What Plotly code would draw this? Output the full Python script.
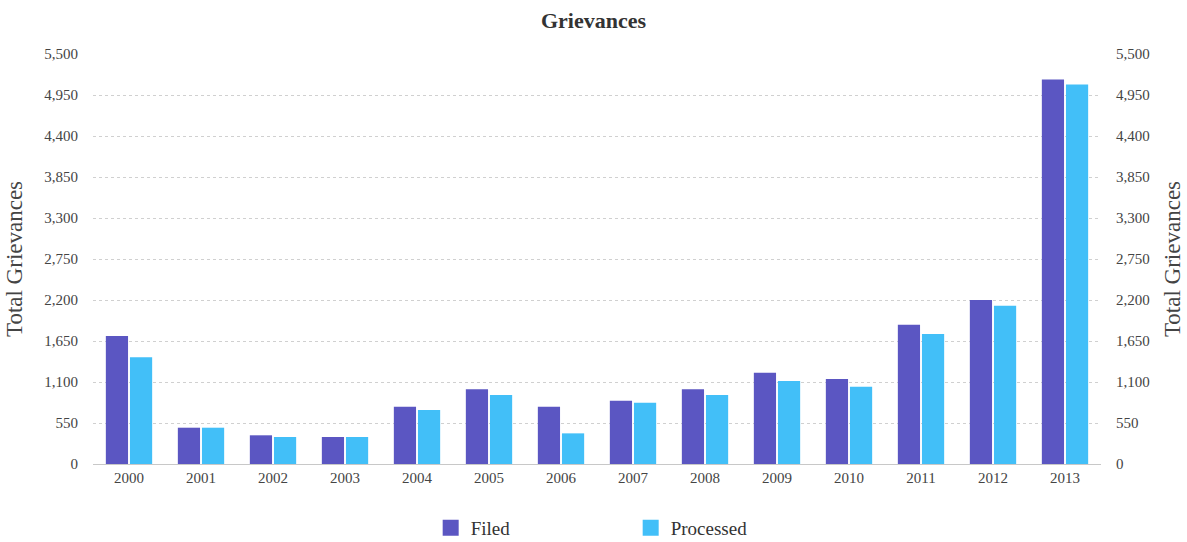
import plotly.graph_objects as go

years = ["2000", "2001", "2002", "2003", "2004", "2005", "2006",
         "2007", "2008", "2009", "2010", "2011", "2012", "2013"]
filed = [1717, 487, 385, 362, 768, 1002, 768, 849, 1002, 1225, 1140, 1868, 2199, 5159]
processed = [1431, 487, 362, 362, 724, 925, 411, 822, 925, 1113, 1037, 1743, 2123, 5092]
tick_vals = [0, 550, 1100, 1650, 2200, 2750, 3300, 3850, 4400, 4950, 5500]

FONT = "Liberation Serif, Times New Roman, serif"
C_FILED = "#5b56c2"
C_PROC = "#42bff8"

fig = go.Figure()
fig.add_trace(go.Bar(x=years, y=filed, name="Filed", marker_color=C_FILED,
                     marker_line_width=0, showlegend=False))
fig.add_trace(go.Bar(x=years, y=processed, name="Processed", marker_color=C_PROC,
                     marker_line_width=0, showlegend=False))
# legend-only entries with larger square symbols
fig.add_trace(go.Scatter(x=[None], y=[None], mode="markers", name="Filed",
                         marker=dict(symbol="square", size=16, color=C_FILED)))
fig.add_trace(go.Scatter(x=[None], y=[None], mode="markers", name="Processed",
                         marker=dict(symbol="square", size=16, color=C_PROC)))
# invisible trace to activate the right axis
fig.add_trace(go.Scatter(x=years, y=filed, yaxis="y2", mode="markers",
                         marker_opacity=0, showlegend=False, hoverinfo="skip"))

axis_common = dict(
    range=[0, 5500], tickvals=tick_vals, tickformat=",", ticks="",
    tickfont=dict(family=FONT, size=15, color="#444"),
    title=dict(text="Total Grievances", font=dict(family=FONT, size=23, color="#444")),
    zeroline=False,
)

fig.update_layout(
    width=1187, height=542,
    margin=dict(l=93, r=86, t=54, b=78, autoexpand=False),
    paper_bgcolor="white", plot_bgcolor="white",
    title=dict(text="<b>Grievances</b>", x=0.5, xanchor="center", y=0.963, yanchor="middle",
               font=dict(family=FONT, size=22, color="#333")),
    barmode="group", bargap=0.33, bargroupgap=0.08,
    xaxis=dict(type="category", range=[-0.5, len(years) - 0.5], autorange=False,
               ticks="", showgrid=False, showline=True,
               linecolor="#c8c8c8", linewidth=1,
               tickfont=dict(family=FONT, size=15, color="#444")),
    yaxis=dict(**axis_common, showgrid=True, gridcolor="#d0d0d0", griddash="dot",
               gridwidth=1, ticklabelstandoff=14),
    yaxis2=dict(**axis_common, overlaying="y", side="right", showgrid=False,
                ticklabelstandoff=14),
    legend=dict(orientation="h", x=0.335, xanchor="left", y=-0.156, yanchor="middle",
                entrywidth=155, font=dict(family=FONT, size=19, color="#333"),
                itemsizing="trace"),
    showlegend=True,
)

fig.write_html("out.html")
